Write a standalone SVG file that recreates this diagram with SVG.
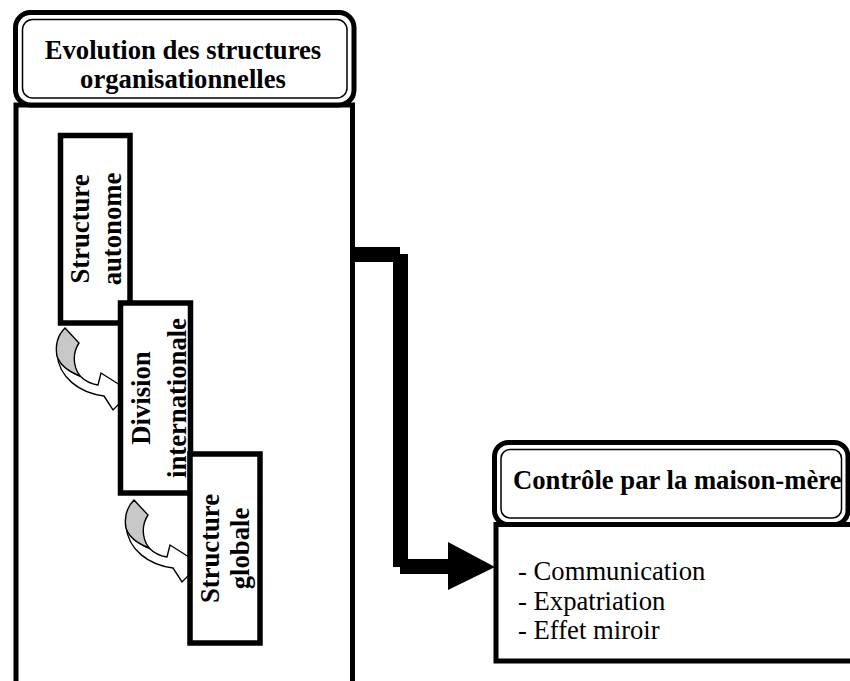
<svg xmlns="http://www.w3.org/2000/svg" width="850" height="681" viewBox="0 0 850 681">
<style>
.t{font-family:"Liberation Serif","Times New Roman",serif;font-size:26.67px;fill:#000}
.b{font-weight:bold}
.box{fill:#fff;stroke:#000;stroke-width:5.5}
.thick{fill:#fff;stroke:#000;stroke-width:5}
.thin{fill:none;stroke:#000;stroke-width:1.5}
.curlw{fill:#fff;stroke:#000;stroke-width:1.4;stroke-linejoin:miter}
.curlg{fill:#c8c8c8;stroke:#000;stroke-width:1.4;stroke-linejoin:miter}
</style>
<defs>
<g id="curl">
<path class="curlw" d="M57,354 C59,378 80,393 104,396 L113,410 L131,392 L101,373 L98,385 C91,384 85,381 80,376 C70,372 60,366 57,354 Z"/>
<path class="curlg" d="M65,328 L79,343 C73,352 72,365 80,376 C70,372 60,366 57,356 C55,345 58,335 65,328 Z"/>
</g>
</defs>
<rect width="850" height="681" fill="#fff"/>
<g id="evolution">
<rect class="thick" x="16" y="105" width="336.5" height="600"/>
<rect class="thick" x="15.5" y="12.5" width="338.5" height="92.5" rx="15"/>
<rect class="thin" x="22.5" y="19.5" width="324.5" height="78.5" rx="10"/>
<text class="t b" x="183" y="59" text-anchor="middle">Evolution des structures</text>
<text class="t b" x="183" y="88" text-anchor="middle">organisationnelles</text>
</g>
<g id="controle">
<rect class="thick" x="496" y="524.5" width="380" height="136.5"/>
<rect class="thick" x="494.5" y="442.5" width="353.5" height="82" rx="14"/>
<rect class="thin" x="501" y="449.5" width="340.5" height="68.5" rx="9"/>
<text class="t b" x="513" y="489">Contrôle par la maison-mère</text>
<text class="t" x="518" y="580">- Communication</text>
<text class="t" x="518" y="609.5">- Expatriation</text>
<text class="t" x="518" y="639">- Effet miroir</text>
</g>
<g id="connectors">
<rect x="355" y="247" width="45" height="15" fill="#000"/>
<rect x="393" y="254" width="15" height="313" fill="#000"/>
<rect x="400" y="559" width="52" height="15" fill="#000"/>
<polygon points="448,542 495,567 448,590" fill="#000"/>
<use href="#curl"/>
<use href="#curl" transform="translate(69,172)"/>
</g>
<g id="autonome">
<rect class="box" x="60.5" y="135.5" width="69.5" height="187.5"/>
<text class="t b" transform="translate(89,229) rotate(-90)" text-anchor="middle">Structure</text>
<text class="t b" transform="translate(121,229) rotate(-90)" text-anchor="middle">autonome</text>
</g>
<g id="division">
<rect class="box" x="120.5" y="303" width="70" height="190"/>
<text class="t b" transform="translate(150,398) rotate(-90)" text-anchor="middle">Division</text>
<text class="t b" transform="translate(186,398) rotate(-90)" text-anchor="middle">internationale</text>
</g>
<g id="globale">
<rect class="box" x="190" y="454" width="70" height="189"/>
<text class="t b" transform="translate(219,548.5) rotate(-90)" text-anchor="middle">Structure</text>
<text class="t b" transform="translate(249,548.5) rotate(-90)" text-anchor="middle">globale</text>
</g>
</svg>
